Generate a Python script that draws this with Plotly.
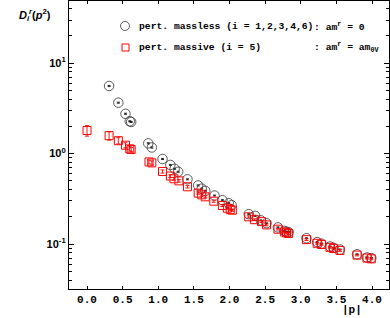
import plotly.graph_objects as go

# pert. massless (i = 1,2,3,4,6)
p_massless = [0.31, 0.44, 0.54, 0.60, 0.62, 0.86, 0.91, 1.06, 1.17, 1.23, 1.28, 1.41,
              1.56, 1.61, 1.66, 1.79, 1.90, 1.99, 2.03, 2.27, 2.36, 2.44, 2.52, 2.68,
              2.77, 2.80, 2.83, 3.08, 3.23, 3.29, 3.41, 3.46, 3.55, 3.79, 3.93, 3.99]
d_massless = [5.6, 3.66, 2.76, 2.28, 2.24, 1.30, 1.17, 0.873, 0.75, 0.68, 0.63, 0.52,
              0.445, 0.41, 0.388, 0.344, 0.306, 0.283, 0.269, 0.214, 0.205, 0.183, 0.17, 0.153,
              0.140, 0.137, 0.135, 0.116, 0.105, 0.101, 0.094, 0.091, 0.087, 0.077, 0.071, 0.070]
e_massless = [0.08, 0.05, 0.04, 0.03, 0.03, 0.02, 0.02, 0.012, 0.01, 0.009, 0.008, 0.007,
              0.006, 0.005, 0.005, 0.004, 0.004, 0.004, 0.003, 0.003, 0.003, 0.002, 0.002, 0.002,
              0.002, 0.002, 0.002, 0.0015, 0.0015, 0.0015, 0.0013, 0.0013, 0.0012, 0.001, 0.001, 0.001]

# pert. massive (i = 5)
p_massive = [0.0, 0.31, 0.44, 0.54, 0.60, 0.62, 0.87, 0.91, 1.06, 1.17, 1.22, 1.29, 1.41,
             1.56, 1.61, 1.66, 1.78, 1.90, 1.97, 2.01, 2.04, 2.27, 2.35, 2.45, 2.52, 2.68,
             2.77, 2.80, 2.83, 3.08, 3.23, 3.29, 3.41, 3.46, 3.55, 3.79, 3.93, 3.99]
d_massive = [1.80, 1.58, 1.39, 1.24, 1.13, 1.11, 0.81, 0.79, 0.635, 0.565, 0.527, 0.50, 0.43,
             0.366, 0.35, 0.333, 0.298, 0.267, 0.249, 0.240, 0.237, 0.20, 0.186, 0.177, 0.163, 0.146,
             0.136, 0.133, 0.131, 0.112, 0.102, 0.099, 0.092, 0.0895, 0.085, 0.0755, 0.070, 0.0687]
e_massive = [0.24, 0.17, 0.11, 0.08, 0.06, 0.06, 0.04, 0.04, 0.025, 0.02, 0.018, 0.016, 0.013,
             0.01, 0.01, 0.009, 0.008, 0.007, 0.006, 0.006, 0.006, 0.005, 0.004, 0.004, 0.004, 0.003,
             0.003, 0.003, 0.003, 0.0025, 0.002, 0.002, 0.002, 0.002, 0.002, 0.0015, 0.0015, 0.0015]

x_ticks = [0.0, 0.5, 1.0, 1.5, 2.0, 2.5, 3.0, 3.5, 4.0]
y_ticks = [0.1, 1, 10]
y_ticktext = ["10<sup>-1</sup>", "10<sup>0</sup>", "10<sup>1</sup>"]
y_minor = [m * 10 ** k for k in (-2, -1, 0, 1) for m in range(2, 10)]

W, H = 390, 318
L, R, T, B = 69, 1, 1, 29
PW, PH = W - L - R, H - T - B


def px(x):
    return (x - L) / PW


def py(y):
    return (H - B - y) / PH


mono = "Liberation Mono, Courier New, monospace"
sans = "Liberation Sans, Arial, sans-serif"

fig = go.Figure()
fig.add_trace(go.Scatter(
    x=p_massless, y=d_massless, mode="markers", name="massless",
    error_y=dict(type="data", array=e_massless, color="black", thickness=0.8, width=1.5),
    marker=dict(symbol="circle-open", size=9.5, color="#333", line=dict(width=0.8)),
))
fig.add_trace(go.Scatter(
    x=p_massive, y=d_massive, mode="markers", name="massive",
    error_y=dict(type="data", array=e_massive, color="red", thickness=0.9, width=2),
    marker=dict(symbol="square-open", size=8, color="red", line=dict(width=1)),
))

# legend drawn by hand
fig.add_shape(type="circle", xref="paper", yref="paper",
              x0=px(120.5), x1=px(129.5), y0=py(30.5), y1=py(21.5),
              line=dict(color="#333", width=0.8))
fig.add_shape(type="rect", xref="paper", yref="paper",
              x0=px(122), x1=px(129), y0=py(51), y1=py(44),
              line=dict(color="red", width=1))
leg_font = dict(family=mono, size=9.7, color="black", weight="bold")
legend_rows = [
    (26, "pert. massless (i = 1,2,3,4,6)", ": am<sup>r</sup> = 0"),
    (47, "pert. massive (i = 5)", ": am<sup>r</sup> = am<sub>0V</sub>"),
]
for yy, left_txt, right_txt in legend_rows:
    fig.add_annotation(x=px(137), y=py(yy), xref="paper", yref="paper", text=left_txt,
                       showarrow=False, xanchor="left", yanchor="middle", font=leg_font)
    fig.add_annotation(x=px(312), y=py(yy), xref="paper", yref="paper", text=right_txt,
                       showarrow=False, xanchor="left", yanchor="middle", font=leg_font)

fig.add_annotation(x=px(17), y=py(15), xref="paper", yref="paper",
                   text="<i>D</i><sub><i>i</i></sub><sup><i>r</i></sup>(<i>p</i><sup>2</sup>)",
                   showarrow=False, xanchor="left", yanchor="middle",
                   font=dict(family=sans, size=11, color="black", weight="bold"))
fig.add_annotation(x=px(352), y=py(310), xref="paper", yref="paper", text="|p|",
                   showarrow=False, xanchor="center", yanchor="middle",
                   font=dict(family=mono, size=11, color="black", weight="bold"))

axis_common = dict(showgrid=False, zeroline=False, showline=True, linecolor="black",
                   linewidth=1.2, mirror="ticks", ticks="inside", tickcolor="black")
fig.update_xaxes(range=[-0.2526, 4.2386], tickvals=x_ticks,
                 ticktext=[f"{v:.1f}" for v in x_ticks], ticklen=3, tickwidth=1,
                 tickfont=dict(family=mono, size=11, color="black", weight="bold"),
                 **axis_common)
fig.update_yaxes(type="log", range=[-1.497, 1.688], tickvals=y_ticks, ticktext=y_ticktext,
                 ticklen=5, tickwidth=1,
                 minor=dict(tickvals=y_minor, ticks="inside", ticklen=2.5, tickcolor="black"),
                 tickfont=dict(family=sans, size=11, color="black", weight="bold"),
                 **axis_common)
fig.update_layout(width=W, height=H, margin=dict(l=L, r=R, t=T, b=B),
                  plot_bgcolor="white", paper_bgcolor="white", showlegend=False)
# the page's default body margin would shift the figure by 8px
fig.write_html("out.html", config={"displayModeBar": False},
               post_script="document.body.style.margin='0';")
